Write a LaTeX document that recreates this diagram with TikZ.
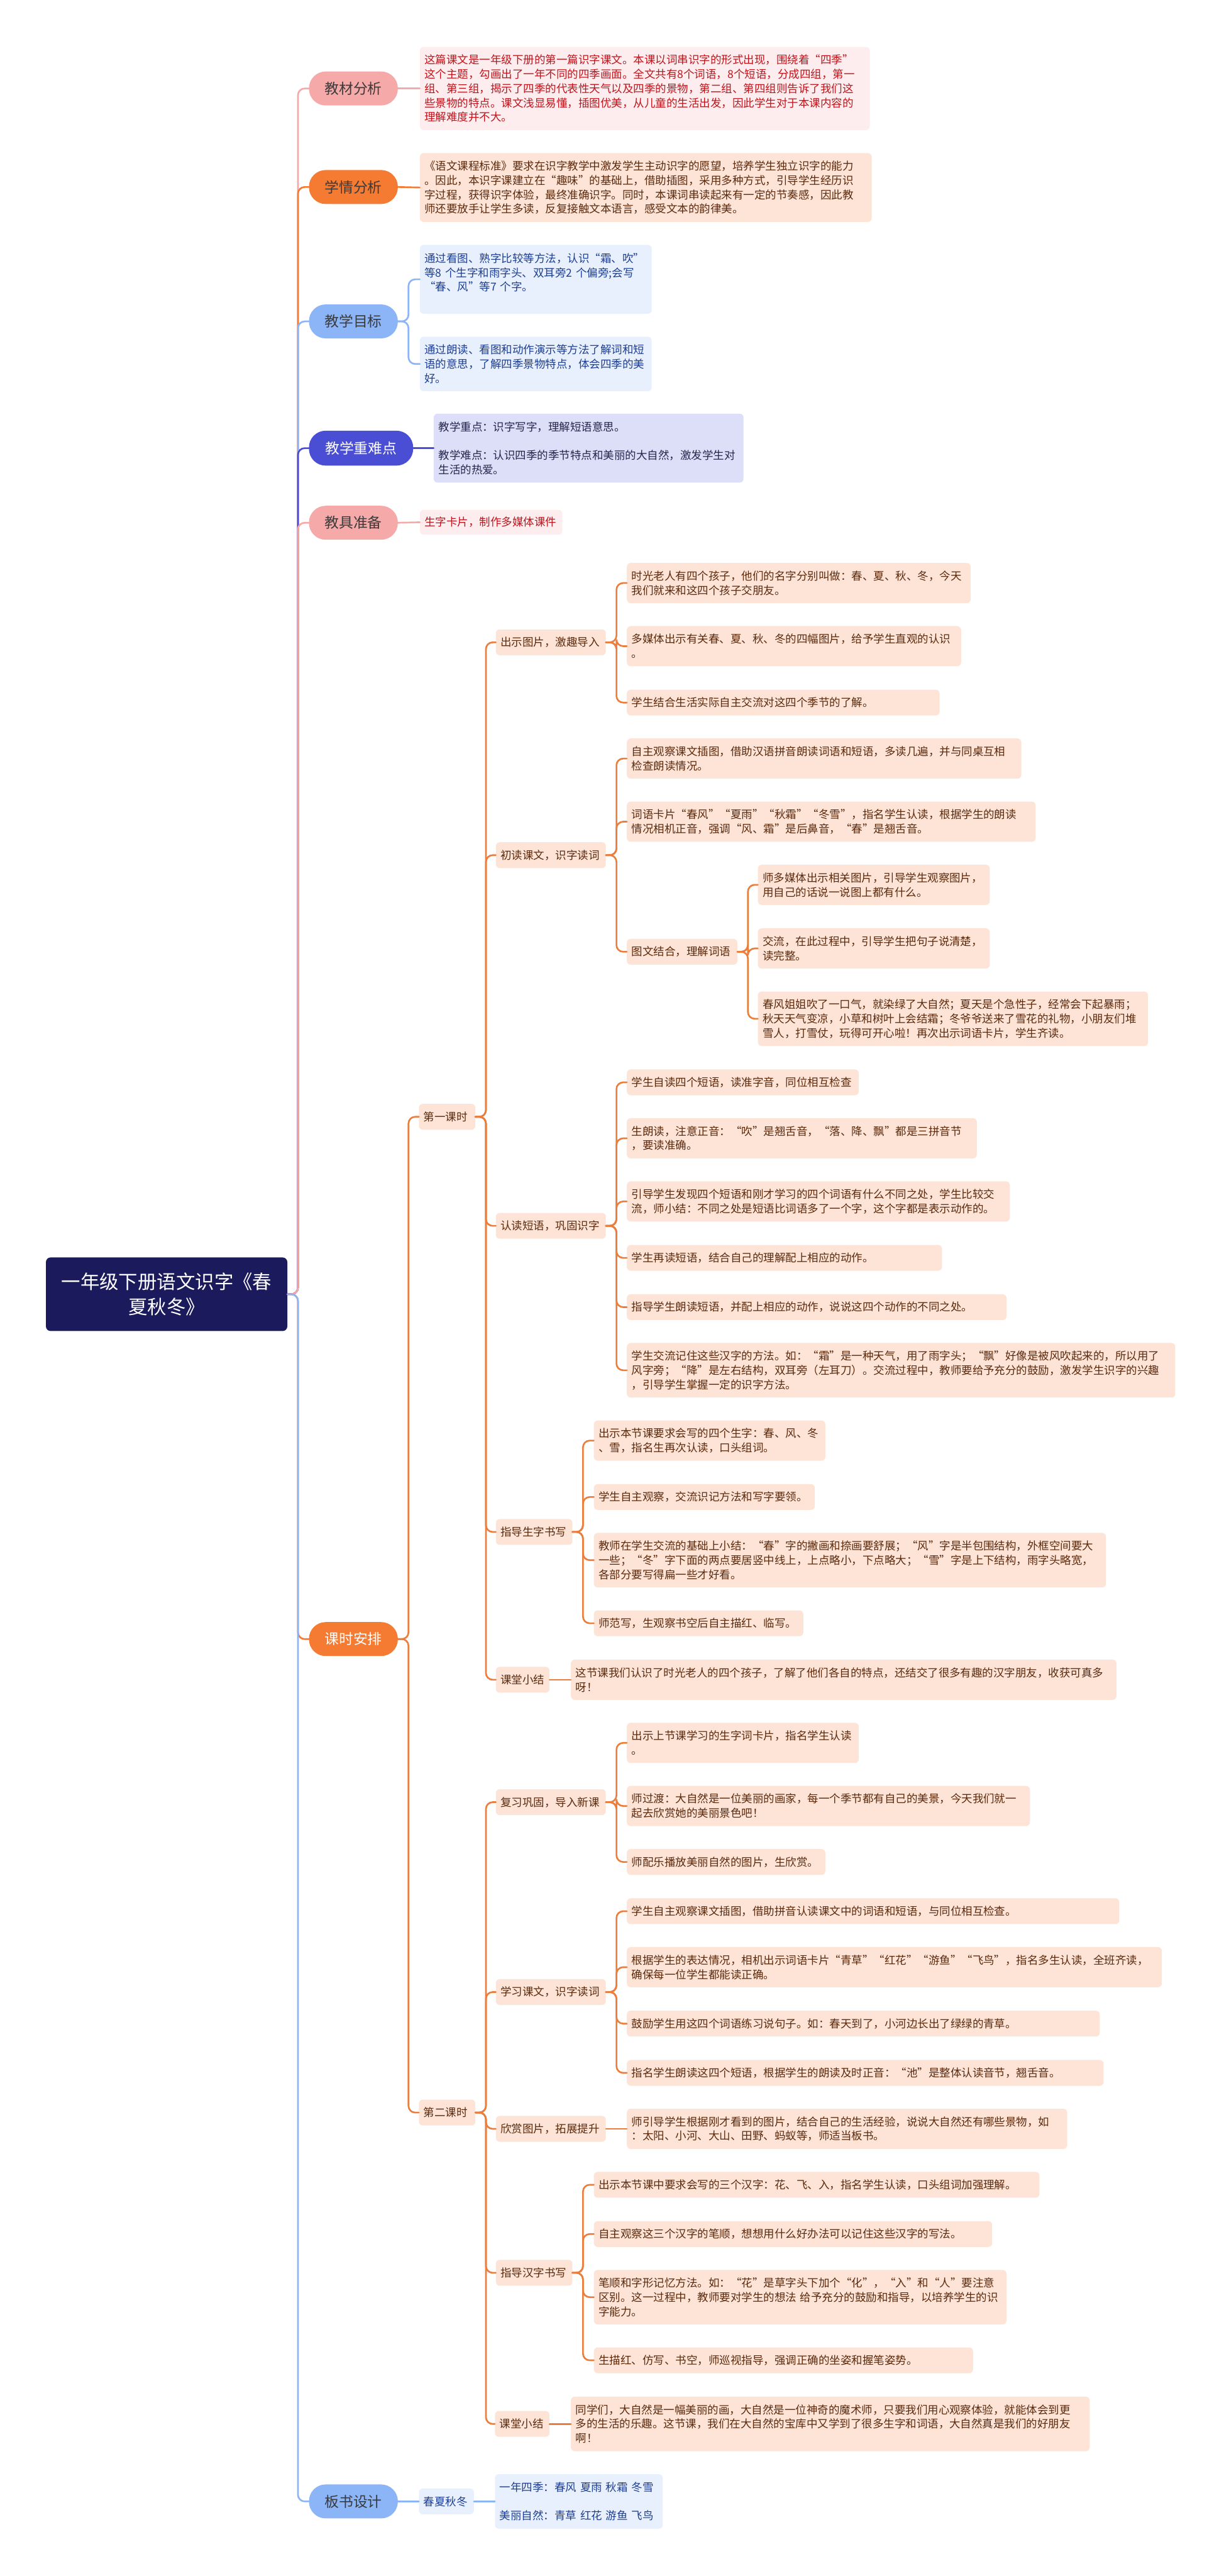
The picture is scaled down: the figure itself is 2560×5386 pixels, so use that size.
\documentclass[tikz,border=0pt]{standalone}
\usepackage{fontspec}
\setmainfont{Noto Sans CJK SC}
\usepackage{xcolor}
\usepackage{tikz}
\usetikzlibrary{positioning, calc}

\definecolor{rootnavy}{HTML}{1B1A5C}
\definecolor{pinkpill}{HTML}{F6A9A9}
\definecolor{pinkfill}{HTML}{FDEDEE}
\definecolor{redtext}{HTML}{C0141C}
\definecolor{orangepill}{HTML}{F57A32}
\definecolor{orangeline}{HTML}{EB7E3D}
\definecolor{peachfill}{HTML}{FDE4D7}
\definecolor{browntext}{HTML}{5B2A0D}
\definecolor{bluepill}{HTML}{8CB5F7}
\definecolor{bluefill}{HTML}{E8F0FE}
\definecolor{bluetext}{HTML}{1D3E92}
\definecolor{indigopill}{HTML}{4A4ED5}
\definecolor{lavfill}{HTML}{DDDEF7}
\definecolor{lavtext}{HTML}{26264D}
\definecolor{pilltext}{HTML}{3A3A3A}

\tikzset{
  rootbox/.style={rectangle, rounded corners=10pt, fill=rootnavy, text=white, align=center, inner sep=0pt, font=\fontsize{40}{53}\selectfont},
  pill/.style={rectangle, rounded corners=35pt, anchor=west, minimum width=186pt, minimum height=71pt, inner sep=0pt, text=pilltext, font=\fontsize{30}{36}\selectfont},
  card/.style={rectangle, rounded corners=8pt, anchor=west, align=left, inner xsep=10pt, inner ysep=0pt, font=\fontsize{23}{30}\selectfont},
  peach/.style={card, fill=peachfill, text=browntext},
  pinkcard/.style={card, fill=pinkfill, text=redtext},
  bluecard/.style={card, fill=bluefill, text=bluetext},
  lavcard/.style={card, fill=lavfill, text=lavtext},
  mm/.style={to path={-- ++(22,0) |- (\tikztotarget)}},
  link/.style={line width=3.5pt, rounded corners=14pt},
}

\begin{document}
\begin{tikzpicture}[x=1pt, y=-1pt, line cap=round]
    \useasboundingbox[fill=white] (0,0) rectangle (2560,5386);

    % Root
    \node (root) [rootbox, minimum width=505pt, minimum height=154pt] at (348.5,2706) {一年级下册语文识字《春\\夏秋冬》};

    % Main branches
    \node (material) [pill, fill=pinkpill] at (646,185) {教材分析};
    \node (learner) [pill, fill=orangepill] at (646,391) {学情分析};
    \node (goals) [pill, fill=bluepill] at (646,672) {教学目标};
    \node (keypts) [pill, fill=indigopill, text=white, minimum width=218pt, minimum height=73pt] at (646,937) {教学重难点};
    \node (tools) [pill, fill=pinkpill] at (646,1093) {教具准备};
    \node (schedule) [pill, fill=orangepill, text=white] at (646,3427) {课时安排};
    \node (board) [pill, fill=bluepill] at (646,5230) {板书设计};

    % Analysis texts
    \node (material_txt) [pinkcard, text width=921pt, minimum height=174pt] at (878,185) {这篇课文是一年级下册的第一篇识字课文。本课以词串识字的形式出现，围绕着“四季”\\这个主题，勾画出了一年不同的四季画面。全文共有8个词语，8个短语，分成四组，第一\\组、第三组，揭示了四季的代表性天气以及四季的景物，第二组、第四组则告诉了我们这\\些景物的特点。课文浅显易懂，插图优美，从儿童的生活出发，因此学生对于本课内容的\\理解难度并不大。};
    \node (learner_txt) [peach, text width=925pt, minimum height=144pt] at (878,392) {《语文课程标准》要求在识字教学中激发学生主动识字的愿望，培养学生独立识字的能力\\。因此，本识字课建立在“趣味”的基础上，借助插图，采用多种方式，引导学生经历识\\字过程，获得识字体验，最终准确识字。同时，本课词串读起来有一定的节奏感，因此教\\师还要放手让学生多读，反复接触文本语言，感受文本的韵律美。};
    \node (goal_a) [bluecard, text width=465pt, minimum height=144pt] at (878,584) {通过看图、熟字比较等方法，认识“霜、吹”\\等8 个生字和雨字头、双耳旁2 个偏旁;会写\\“春、风”等7 个字。\\\mbox{}};
    \node (goal_b) [bluecard, text width=465pt, minimum height=114pt] at (878,761) {通过朗读、看图和动作演示等方法了解词和短\\语的意思，了解四季景物特点，体会四季的美\\好。};
    \node (keypts_txt) [lavcard, text width=628pt, minimum height=144pt] at (907,937) {教学重点：识字写字，理解短语意思。\\[30pt]教学难点：认识四季的季节特点和美丽的大自然，激发学生对\\生活的热爱。};
    \node (tools_txt) [pinkcard, text width=278pt, minimum height=52pt] at (878,1092) {生字卡片，制作多媒体课件};

    % Lessons
    \node (lesson1) [peach, text width=98pt, minimum height=54pt] at (876,2335) {第一课时};
    \node (lesson2) [peach, text width=98pt, minimum height=54pt] at (876,4417) {第二课时};

    % First lesson steps
    \node (intro) [peach, text width=210pt, minimum height=54pt] at (1037,1343) {出示图片，激趣导入};
    \node (firstread) [peach, text width=210pt, minimum height=54pt] at (1037,1788) {初读课文，识字读词};
    \node (phrases) [peach, text width=210pt, minimum height=54pt] at (1037,2563) {认读短语，巩固识字};
    \node (writing1) [peach, text width=140pt, minimum height=54pt] at (1037,3203) {指导生字书写};
    \node (summary1) [peach, text width=92pt, minimum height=54pt] at (1037,3512) {课堂小结};

    \node (intro_a) [peach, text width=699pt, minimum height=84pt] at (1311,1219) {时光老人有四个孩子，他们的名字分别叫做：春、夏、秋、冬，今天\\我们就来和这四个孩子交朋友。};
    \node (intro_b) [peach, text width=679pt, minimum height=84pt] at (1311,1351) {多媒体出示有关春、夏、秋、冬的四幅图片，给予学生直观的认识\\。};
    \node (intro_c) [peach, text width=634pt, minimum height=54pt] at (1311,1469) {学生结合生活实际自主交流对这四个季节的了解。};

    \node (read_a) [peach, text width=805pt, minimum height=84pt] at (1311,1586) {自主观察课文插图，借助汉语拼音朗读词语和短语，多读几遍，并与同桌互相\\检查朗读情况。};
    \node (read_b) [peach, text width=835pt, minimum height=84pt] at (1311,1718) {词语卡片“春风”“夏雨”“秋霜”“冬雪”，指名学生认读，根据学生的朗读\\情况相机正音，强调“风、霜”是后鼻音，“春”是翘舌音。};
    \node (read_c) [peach, text width=211pt, minimum height=54pt] at (1311,1990) {图文结合，理解词语};
    \node (pic_a) [peach, text width=465pt, minimum height=84pt] at (1585,1850) {师多媒体出示相关图片，引导学生观察图片，\\用自己的话说一说图上都有什么。};
    \node (pic_b) [peach, text width=465pt, minimum height=84pt] at (1585,1983) {交流，在此过程中，引导学生把句子说清楚，\\读完整。};
    \node (pic_c) [peach, text width=796pt, minimum height=114pt] at (1585,2130) {春风姐姐吹了一口气，就染绿了大自然；夏天是个急性子，经常会下起暴雨；\\秋天天气变凉，小草和树叶上会结霜；冬爷爷送来了雪花的礼物，小朋友们堆\\雪人，打雪仗，玩得可开心啦！再次出示词语卡片，学生齐读。};

    \node (phr_a) [peach, text width=465pt, minimum height=54pt] at (1311,2263) {学生自读四个短语，读准字音，同位相互检查};
    \node (phr_b) [peach, text width=712pt, minimum height=84pt] at (1311,2380) {生朗读，注意正音：“吹”是翘舌音，“落、降、飘”都是三拼音节\\，要读准确。};
    \node (phr_c) [peach, text width=781pt, minimum height=84pt] at (1311,2512) {引导学生发现四个短语和刚才学习的四个词语有什么不同之处，学生比较交\\流，师小结：不同之处是短语比词语多了一个字，这个字都是表示动作的。};
    \node (phr_d) [peach, text width=639pt, minimum height=54pt] at (1311,2630) {学生再读短语，结合自己的理解配上相应的动作。};
    \node (phr_e) [peach, text width=774pt, minimum height=54pt] at (1311,2733) {指导学生朗读短语，并配上相应的动作，说说这四个动作的不同之处。};
    \node (phr_f) [peach, text width=1127pt, minimum height=114pt] at (1311,2865) {学生交流记住这些汉字的方法。如：“霜”是一种天气，用了雨字头；“飘”好像是被风吹起来的，所以用了\\风字旁；“降”是左右结构，双耳旁（左耳刀）。交流过程中，教师要给予充分的鼓励，激发学生识字的兴趣\\，引导学生掌握一定的识字方法。};

    \node (wr1_a) [peach, text width=464pt, minimum height=84pt] at (1242,3012) {出示本节课要求会写的四个生字：春、风、冬\\、雪，指名生再次认读，口头组词。};
    \node (wr1_b) [peach, text width=442pt, minimum height=54pt] at (1242,3130) {学生自主观察，交流识记方法和写字要领。};
    \node (wr1_c) [peach, text width=1051pt, minimum height=114pt] at (1242,3262) {教师在学生交流的基础上小结：“春”字的撇画和捺画要舒展；“风”字是半包围结构，外框空间要大\\一些；“冬”字下面的两点要居竖中线上，上点略小，下点略大；“雪”字是上下结构，雨字头略宽，\\各部分要写得扁一些才好看。};
    \node (wr1_d) [peach, text width=418pt, minimum height=54pt] at (1242,3394) {师范写，生观察书空后自主描红、临写。};

    \node (sum1_txt) [peach, text width=1121pt, minimum height=84pt] at (1194,3512) {这节课我们认识了时光老人的四个孩子，了解了他们各自的特点，还结交了很多有趣的汉字朋友，收获可真多\\呀！};

    % Second lesson steps
    \node (review) [peach, text width=210pt, minimum height=54pt] at (1037,3768) {复习巩固，导入新课};
    \node (study) [peach, text width=210pt, minimum height=54pt] at (1037,4165) {学习课文，识字读词};
    \node (pictures) [peach, text width=210pt, minimum height=54pt] at (1037,4451) {欣赏图片，拓展提升};
    \node (writing2) [peach, text width=140pt, minimum height=54pt] at (1037,4752) {指导汉字书写};
    \node (summary2) [peach, text width=94pt, minimum height=54pt] at (1035,5068) {课堂小结};

    \node (rev_a) [peach, text width=465pt, minimum height=84pt] at (1311,3644) {出示上节课学习的生字词卡片，指名学生认读\\。};
    \node (rev_b) [peach, text width=823pt, minimum height=84pt] at (1311,3776) {师过渡：大自然是一位美丽的画家，每一个季节都有自己的美景，今天我们就一\\起去欣赏她的美丽景色吧！};
    \node (rev_c) [peach, text width=395pt, minimum height=54pt] at (1311,3893) {师配乐播放美丽自然的图片，生欣赏。};

    \node (st_a) [peach, text width=1010pt, minimum height=54pt] at (1311,3996) {学生自主观察课文插图，借助拼音认读课文中的词语和短语，与同位相互检查。};
    \node (st_b) [peach, text width=1099pt, minimum height=84pt] at (1311,4113) {根据学生的表达情况，相机出示词语卡片“青草”“红花”“游鱼”“飞鸟”，指名多生认读，全班齐读，\\确保每一位学生都能读正确。};
    \node (st_c) [peach, text width=969pt, minimum height=54pt] at (1311,4231) {鼓励学生用这四个词语练习说句子。如：春天到了，小河边长出了绿绿的青草。};
    \node (st_d) [peach, text width=977pt, minimum height=54pt] at (1311,4334) {指名学生朗读这四个短语，根据学生的朗读及时正音：“池”是整体认读音节，翘舌音。};

    \node (pic_txt) [peach, text width=901pt, minimum height=84pt] at (1311,4451) {师引导学生根据刚才看到的图片，结合自己的生活经验，说说大自然还有哪些景物，如\\：太阳、小河、大山、田野、蚂蚁等，师适当板书。};

    \node (wr2_a) [peach, text width=912pt, minimum height=54pt] at (1242,4568) {出示本节课中要求会写的三个汉字：花、飞、入，指名学生认读，口头组词加强理解。};
    \node (wr2_b) [peach, text width=813pt, minimum height=54pt] at (1242,4671) {自主观察这三个汉字的笔顺，想想用什么好办法可以记住这些汉字的写法。};
    \node (wr2_c) [peach, text width=843pt, minimum height=114pt] at (1242,4803) {笔顺和字形记忆方法。如：“花”是草字头下加个“化”，“入”和“人”要注意\\区别。这一过程中，教师要对学生的想法 给予充分的鼓励和指导，以培养学生的识\\字能力。};
    \node (wr2_d) [peach, text width=773pt, minimum height=54pt] at (1242,4935) {生描红、仿写、书空，师巡视指导，强调正确的坐姿和握笔姿势。};

    \node (sum2_txt) [peach, text width=1065pt, minimum height=114pt] at (1194,5068) {同学们，大自然是一幅美丽的画，大自然是一位神奇的魔术师，只要我们用心观察体验，就能体会到更\\多的生活的乐趣。这节课，我们在大自然的宝库中又学到了很多生字和词语，大自然真是我们的好朋友\\啊！};

    % Board design
    \node (seasons) [bluecard, text width=95pt, minimum height=54pt] at (876,5230) {春夏秋冬};
    \node (board_txt) [bluecard, text width=331pt, minimum height=114pt] at (1035,5230) {一年四季：春风 夏雨 秋霜 冬雪\\[30pt]美丽自然：青草 红花 游鱼 飞鸟};

    % Main connectors
    \draw[link, pinkpill] (root.east) to[mm] (material.west);
    \draw[link, orangepill] (root.east) to[mm] (learner.west);
    \draw[link, bluepill] (root.east) to[mm] (goals.west);
    \draw[link, indigopill] (root.east) to[mm] (keypts.west);
    \draw[link, pinkpill] (root.east) to[mm] (tools.west);
    \draw[link, orangepill] (root.east) to[mm] (schedule.west);
    \draw[link, bluepill] (root.east) to[mm] (board.west);

    \draw[link, pinkpill] (material.east) -- (material_txt.west);
    \draw[link, orangepill] (learner.east) -- (learner_txt.west);
    \draw[link, bluepill] (goals.east) to[mm] (goal_a.west);
    \draw[link, bluepill] (goals.east) to[mm] (goal_b.west);
    \draw[link, indigopill] (keypts.east) -- (keypts_txt.west);
    \draw[link, pinkpill] (tools.east) -- (tools_txt.west);
    \draw[link, bluepill] (board.east) -- (seasons.west);
    \draw[link, bluepill] (seasons.east) -- (board_txt.west);

    % Lesson connectors
    \draw[link, orangeline] (schedule.east) to[mm] (lesson1.west);
    \draw[link, orangeline] (schedule.east) to[mm] (lesson2.west);

    \draw[link, orangeline] (lesson1.east) to[mm] (intro.west);
    \draw[link, orangeline] (lesson1.east) to[mm] (firstread.west);
    \draw[link, orangeline] (lesson1.east) to[mm] (phrases.west);
    \draw[link, orangeline] (lesson1.east) to[mm] (writing1.west);
    \draw[link, orangeline] (lesson1.east) to[mm] (summary1.west);

    \draw[link, orangeline] (intro.east) to[mm] (intro_a.west);
    \draw[link, orangeline] (intro.east) to[mm] (intro_b.west);
    \draw[link, orangeline] (intro.east) to[mm] (intro_c.west);
    \draw[link, orangeline] (firstread.east) to[mm] (read_a.west);
    \draw[link, orangeline] (firstread.east) to[mm] (read_b.west);
    \draw[link, orangeline] (firstread.east) to[mm] (read_c.west);
    \draw[link, orangeline] (read_c.east) to[mm] (pic_a.west);
    \draw[link, orangeline] (read_c.east) to[mm] (pic_b.west);
    \draw[link, orangeline] (read_c.east) to[mm] (pic_c.west);
    \draw[link, orangeline] (phrases.east) to[mm] (phr_a.west);
    \draw[link, orangeline] (phrases.east) to[mm] (phr_b.west);
    \draw[link, orangeline] (phrases.east) to[mm] (phr_c.west);
    \draw[link, orangeline] (phrases.east) to[mm] (phr_d.west);
    \draw[link, orangeline] (phrases.east) to[mm] (phr_e.west);
    \draw[link, orangeline] (phrases.east) to[mm] (phr_f.west);
    \draw[link, orangeline] (writing1.east) to[mm] (wr1_a.west);
    \draw[link, orangeline] (writing1.east) to[mm] (wr1_b.west);
    \draw[link, orangeline] (writing1.east) to[mm] (wr1_c.west);
    \draw[link, orangeline] (writing1.east) to[mm] (wr1_d.west);
    \draw[link, orangeline] (summary1.east) -- (sum1_txt.west);

    \draw[link, orangeline] (lesson2.east) to[mm] (review.west);
    \draw[link, orangeline] (lesson2.east) to[mm] (study.west);
    \draw[link, orangeline] (lesson2.east) to[mm] (pictures.west);
    \draw[link, orangeline] (lesson2.east) to[mm] (writing2.west);
    \draw[link, orangeline] (lesson2.east) to[mm] (summary2.west);

    \draw[link, orangeline] (review.east) to[mm] (rev_a.west);
    \draw[link, orangeline] (review.east) to[mm] (rev_b.west);
    \draw[link, orangeline] (review.east) to[mm] (rev_c.west);
    \draw[link, orangeline] (study.east) to[mm] (st_a.west);
    \draw[link, orangeline] (study.east) to[mm] (st_b.west);
    \draw[link, orangeline] (study.east) to[mm] (st_c.west);
    \draw[link, orangeline] (study.east) to[mm] (st_d.west);
    \draw[link, orangeline] (pictures.east) -- (pic_txt.west);
    \draw[link, orangeline] (writing2.east) to[mm] (wr2_a.west);
    \draw[link, orangeline] (writing2.east) to[mm] (wr2_b.west);
    \draw[link, orangeline] (writing2.east) to[mm] (wr2_c.west);
    \draw[link, orangeline] (writing2.east) to[mm] (wr2_d.west);
    \draw[link, orangeline] (summary2.east) -- (sum2_txt.west);
\end{tikzpicture}
\end{document}
